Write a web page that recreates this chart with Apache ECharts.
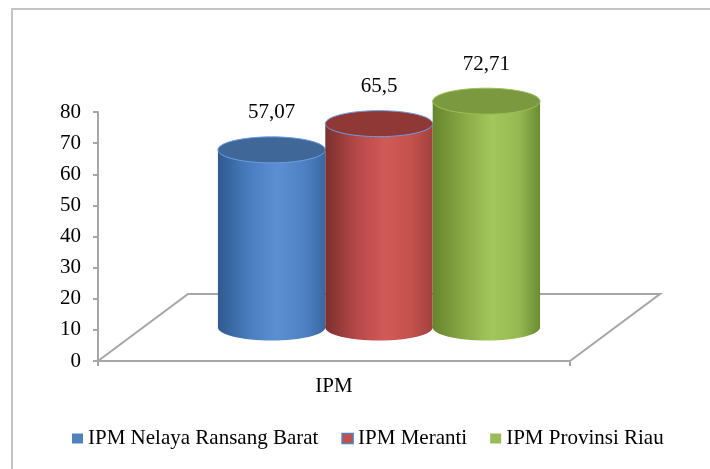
<!DOCTYPE html>
<html><head><meta charset="utf-8">
<script src="https://cdn.jsdelivr.net/npm/echarts@6/dist/echarts.min.js"></script>
<style>html,body{margin:0;padding:0;background:#fff}#c{width:710px;height:469px}</style>
</head><body><div id="c"></div>
<script>
// ---- data ----
const categories = ['IPM'];
const seriesNames = ['IPM Nelaya Ransang Barat', 'IPM Meranti', 'IPM Provinsi Riau'];
const nelayaValues = [57.07];
const merantiValues = [65.5];
const riauValues = [72.71];
const yMin = 0, yMax = 80, yInterval = 10;

// ---- styling constants ----
const FONT = '"Liberation Serif", "Times New Roman", serif';
const DEPTH_X = 90, DEPTH_Y = -67;   // floor depth vector (pseudo 3D)
const CYL_FRAC = 0.2275;             // cylinder diameter as share of category band
const RY_TOP = 13, RY_BOTTOM = 13;
const palettes = [
  {stops: ['#2f5a90', '#4a7ec0', '#5a8fd2', '#4f82c4', '#3a67a2'], top: '#3f6898', outline: '#6d9de0', legend: '#4f81bd'},
  {stops: ['#7a302e', '#b8494a', '#d05a56', '#c4514d', '#a24140'], top: '#8f3836', outline: '#6d9de0', legend: '#c0504d'},
  {stops: ['#66852e', '#8aaa46', '#a4c75c', '#96b952', '#6c8b33'], top: '#7b9a3f', outline: '#9cbf55', legend: '#9bbb59'}
];

function fmt(v) { return String(v).replace('.', ','); }

function makeCylinder(idx) {
  const pal = palettes[idx];
  return function (params, api) {
    const x = api.value(0), v = api.value(1);
    const base = api.coord([x, 0]);
    const top = api.coord([x, v]);
    const w = api.size([1, 0])[0] * CYL_FRAC;
    const rx = w / 2;
    const cx = base[0] + DEPTH_X * 0.5 + (idx - 1) * w;
    const by = base[1] + DEPTH_Y * 0.5;
    const ty = top[1] + DEPTH_Y * 0.5;
    const mk = () => new echarts.graphic.LinearGradient(0, 0, 1, 0, [
      {offset: 0, color: pal.stops[0]},
      {offset: 0.3, color: pal.stops[1]},
      {offset: 0.55, color: pal.stops[2]},
      {offset: 0.8, color: pal.stops[3]},
      {offset: 1, color: pal.stops[4]}
    ]);
    return {
      type: 'group',
      children: [
        {type: 'ellipse', shape: {cx: cx, cy: by, rx: rx, ry: RY_BOTTOM}, style: {fill: mk()}},
        {type: 'rect', shape: {x: cx - rx, y: ty, width: w, height: by - ty}, style: {fill: mk()}},
        {type: 'ellipse', shape: {cx: cx, cy: ty, rx: rx, ry: RY_TOP},
          style: {fill: pal.top, stroke: pal.outline, lineWidth: 1}},
        {type: 'text', style: {text: fmt(v), x: cx, y: ty - 37, align: 'center', verticalAlign: 'middle',
          font: '21px ' + FONT, fill: '#000'}}
      ]
    };
  };
}

function floorRender(params, api) {
  const cs = params.coordSys;
  const y0 = api.coord([0, 0])[1];
  const x0 = cs.x, x1 = cs.x + cs.width;
  return {
    type: 'polyline',
    shape: {points: [[x0, y0], [x0 + DEPTH_X, y0 + DEPTH_Y], [x1 + DEPTH_X, y0 + DEPTH_Y], [x1, y0]]},
    style: {fill: 'none', stroke: '#a6a6a6', lineWidth: 2}
  };
}

const chart = echarts.init(document.getElementById('c'), null, {renderer: 'canvas'});
const valueSets = [nelayaValues, merantiValues, riauValues];
const series = [{
  type: 'custom', name: '_floor', silent: true, renderItem: floorRender,
  data: [[0, 0]], z: 1
}];
valueSets.forEach((vals, i) => {
  series.push({
    type: 'custom', name: seriesNames[i], renderItem: makeCylinder(i), z: 2,
    itemStyle: {color: palettes[i].legend},
    data: vals.map((v, k) => [k, v])
  });
});

chart.setOption({
  animation: false,
  backgroundColor: '#fff',
  textStyle: {fontFamily: FONT},
  graphic: [{
    type: 'rect', shape: {x: 12, y: 9, width: 800, height: 600}, silent: true,
    style: {fill: 'none', stroke: '#c4c4c4', lineWidth: 2}
  }],
  grid: {left: 98, right: 140, top: 112, height: 249, containLabel: false, outerBoundsMode: 'none'},
  xAxis: {
    type: 'category', data: categories,
    axisLine: {show: true, lineStyle: {color: '#a6a6a6', width: 2}},
    axisTick: {show: true, length: 5, lineStyle: {color: '#a6a6a6', width: 2}},
    axisLabel: {color: '#000', fontSize: 21, fontFamily: FONT, margin: 15}
  },
  yAxis: {
    type: 'value', min: yMin, max: yMax, interval: yInterval,
    axisLine: {show: true, lineStyle: {color: '#a6a6a6', width: 2}},
    axisTick: {show: true, length: 5, lineStyle: {color: '#a6a6a6', width: 2}},
    splitLine: {show: false},
    axisLabel: {color: '#000', fontSize: 21, fontFamily: FONT, margin: 17}
  },
  legend: {
    left: 72, top: 428, padding: 0, icon: 'rect', itemWidth: 11, itemHeight: 10, itemGap: 23,
    textStyle: {color: '#000', fontSize: 21, fontFamily: FONT},
    data: [
      {name: seriesNames[0]},
      {name: seriesNames[1], itemStyle: {borderColor: '#4f81bd', borderWidth: 1.5}},
      {name: seriesNames[2]}
    ]
  },
  series: series
});
</script></body></html>
